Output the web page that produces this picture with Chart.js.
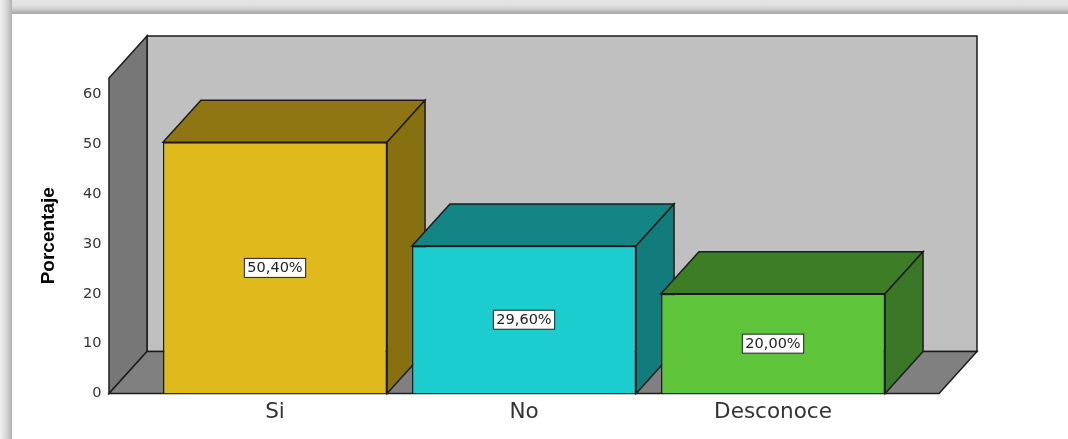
<!DOCTYPE html>
<html lang="es">
<head>
<meta charset="utf-8">
<title>Porcentaje</title>
<script src="https://cdn.jsdelivr.net/npm/chart.js@4"></script>
<style>
    html, body { margin: 0; padding: 0; background: #fff; overflow: hidden; }
    #wrap { position: relative; width: 1068px; height: 439px; }
    #frame-top { position: absolute; left: 0; top: 0; width: 1068px; height: 14px;
        background: linear-gradient(to bottom, #e4e4e4 0, #e2e2e2 35%, #d2d2d2 60%, #aeaeae 90%, #aeaeae 100%); }
    #frame-left { position: absolute; left: 0; top: 0; width: 12px; height: 439px;
        background: linear-gradient(to right, #f2f2f2 0, #e0e0e0 35%, #cfcfcf 65%, #b0b0b0 100%); }
    canvas { position: absolute; left: 0; top: 0; }
</style>
</head>
<body>
<div id="wrap">
    <div id="frame-top"></div>
    <div id="frame-left"></div>
    <canvas id="chart" width="1068" height="439"></canvas>
</div>
<script>
// ─── Datos ─────────────────────────────────────────────────
const categorias = ['Si', 'No', 'Desconoce'];
const porcentajes = [50.4, 29.6, 20.0];
const etiquetas = ['50,40%', '29,60%', '20,00%'];
const ejeMax = 63.3;

const colorFrente = ['#e0b91c', '#1ccdd0', '#5ec43a'];
const colorTecho = ['#8f7612', '#138584', '#3c7d26'];
const colorLado = ['#86700f', '#127c7d', '#3a7726'];

// profundidad de la vista 3D
const DX = 38;
const DY = -42;
const LINEA = '#1c1c1c';

function poly(ctx, pts, fill) {
    ctx.beginPath();
    pts.forEach((p, i) => i ? ctx.lineTo(p[0], p[1]) : ctx.moveTo(p[0], p[1]));
    ctx.closePath();
    ctx.fillStyle = fill;
    ctx.fill();
    ctx.stroke();
}

// paredes, suelo y caras laterales de las barras
const caja3d = {
    id: 'caja3d',
    beforeDatasetsDraw(chart) {
        const { ctx, scales: { x, y } } = chart;
        const band = x.width / categorias.length;
        const l = x.left - band / 6;
        const r = x.right + band / 6;
        const t = y.top;
        const b = y.bottom;

        ctx.save();
        ctx.strokeStyle = LINEA;
        ctx.lineWidth = 1.5;
        ctx.lineJoin = 'miter';

        poly(ctx, [[l + DX, t + DY], [r + DX, t + DY], [r + DX, b + DY], [l + DX, b + DY]], '#c0c0c0');
        poly(ctx, [[l, t], [l + DX, t + DY], [l + DX, b + DY], [l, b]], '#777777');
        poly(ctx, [[l, b], [l + DX, b + DY], [r + DX, b + DY], [r, b]], '#808080');

        chart.getDatasetMeta(0).data.forEach((bar, i) => {
            const x0 = bar.x - bar.width / 2;
            const x1 = bar.x + bar.width / 2;
            poly(ctx, [[x0, bar.y], [x0 + DX, bar.y + DY], [x1 + DX, bar.y + DY], [x1, bar.y]], colorTecho[i]);
            poly(ctx, [[x1, bar.y], [x1 + DX, bar.y + DY], [x1 + DX, bar.base + DY], [x1, bar.base]], colorLado[i]);
        });
        ctx.restore();
    }
};

// cajitas blancas con el porcentaje
const rotulos = {
    id: 'rotulos',
    afterDatasetsDraw(chart) {
        const { ctx } = chart;
        ctx.save();
        ctx.font = '14.5px "DejaVu Sans"';
        ctx.textAlign = 'center';
        ctx.textBaseline = 'middle';
        chart.getDatasetMeta(0).data.forEach((bar, i) => {
            const cy = (bar.y + bar.base) / 2;
            const w = ctx.measureText(etiquetas[i]).width + 6;
            ctx.fillStyle = '#fff';
            ctx.strokeStyle = '#222';
            ctx.lineWidth = 1;
            ctx.fillRect(bar.x - w / 2, cy - 9.5, w, 19);
            ctx.strokeRect(bar.x - w / 2, cy - 9.5, w, 19);
            ctx.fillStyle = '#222';
            ctx.fillText(etiquetas[i], bar.x, cy + 0.5);
        });
        ctx.restore();
    }
};

new Chart(document.getElementById('chart'), {
    type: 'bar',
    data: {
        labels: categorias,
        datasets: [{
            data: porcentajes,
            backgroundColor: colorFrente,
            borderColor: LINEA,
            borderWidth: 1.5,
            barPercentage: 0.9,
            categoryPercentage: 1
        }]
    },
    options: {
        responsive: false,
        animation: false,
        layout: { padding: { top: 78, right: 170.5, bottom: 0, left: 0 } },
        plugins: {
            legend: { display: false },
            tooltip: { enabled: false }
        },
        scales: {
            x: {
                afterFit: s => { s.height = 45.5; },
                grid: { display: false, drawTicks: false },
                border: { display: false },
                ticks: {
                    padding: 6,
                    maxRotation: 0,
                    color: '#333',
                    font: { family: '"DejaVu Sans"', size: 21.5 }
                }
            },
            y: {
                min: 0,
                max: ejeMax,
                afterFit: s => {
                    s.width = 150.5;
                    // el padding de las marcas no debe recortar el alto del grafico
                    s.paddingTop = 0;
                    s.paddingBottom = 0;
                },
                grid: { display: false, drawTicks: false },
                border: { display: false },
                title: {
                    display: true,
                    text: 'Porcentaje',
                    color: '#000',
                    padding: { top: 37, bottom: 0 },
                    font: { family: '"Liberation Sans"', size: 19, weight: 'bold' }
                },
                ticks: {
                    stepSize: 10,
                    includeBounds: false,
                    padding: 49,
                    color: '#333',
                    font: { family: '"DejaVu Sans"', size: 14.5 }
                }
            }
        }
    },
    plugins: [caja3d, rotulos]
});
</script>
</body>
</html>
